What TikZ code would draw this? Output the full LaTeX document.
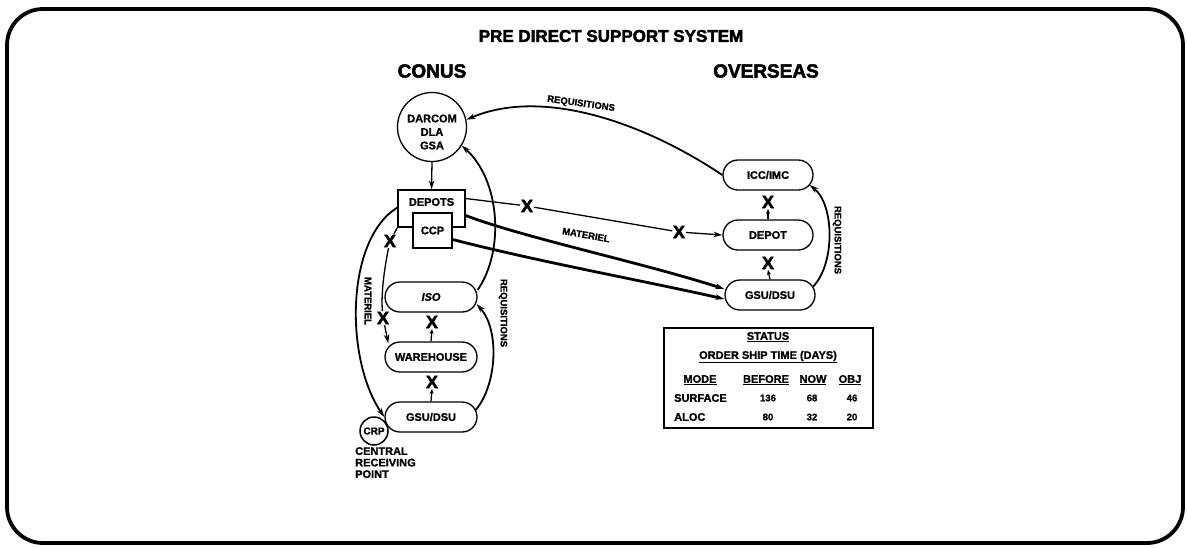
\documentclass[tikz,border=0pt]{standalone}
\usepackage{fontspec}
\setmainfont[BoldFeatures={FakeBold=1.2},BoldItalicFeatures={FakeBold=1.2}]{Liberation Sans}
\newfontfamily\heavyfont[BoldFeatures={FakeBold=2.5}]{Liberation Sans}
\usetikzlibrary{arrows.meta}
\begin{document}
\begin{tikzpicture}[x=1pt,y=-1pt,
  every node/.style={font=\bfseries},
  pill/.style={draw, line width=1.3pt, rounded corners=15pt, minimum width=92pt, minimum height=30pt, inner sep=0pt, fill=white, font=\bfseries\fontsize{11}{12}\selectfont},
  boxnode/.style={draw, line width=1.3pt, fill=white, inner sep=0pt},
  nodetext/.style={inner sep=0pt, font=\bfseries\fontsize{11}{13.5}\selectfont, align=center},
  xmark/.style={inner sep=0.6pt, fill=white, font=\heavyfont\bfseries\fontsize{18}{18}\selectfont},
  thinline/.style={line width=1.3pt},
  midline/.style={line width=1.8pt},
  heavyline/.style={line width=2.8pt},
  arr/.style={-{Stealth[length=9pt,width=5.5pt]}},
  smallarr/.style={-{Stealth[length=5pt,width=4pt]}},
  lbl/.style={inner sep=0pt, font=\bfseries\fontsize{9.5}{10}\selectfont},
  tbl/.style={inner sep=0pt, font=\bfseries\fontsize{11}{12}\selectfont},
  tnum/.style={inner sep=0pt, font=\bfseries\fontsize{9.5}{10}\selectfont}
]
\useasboundingbox (0,0) rectangle (1187,547);
% outer frame
\draw[line width=3.8pt, rounded corners=36pt] (7,9) rectangle (1183,543);

% headings
\node[font=\heavyfont\bfseries\fontsize{17}{18}\selectfont] (title) at (611,36) {PRE DIRECT SUPPORT SYSTEM};
\node[font=\heavyfont\bfseries\fontsize{19}{20}\selectfont] (conus) at (432,71) {CONUS};
\node[font=\heavyfont\bfseries\fontsize{19}{20}\selectfont] (overseas) at (766,71) {OVERSEAS};

% CONUS nodes
\node[circle, draw, line width=1.3pt, minimum size=69pt, inner sep=0pt] (darcom) at (432,127) {};
\node[nodetext] (darcomtext) at (432,132) {DARCOM\\DLA\\GSA};
\node[boxnode, minimum width=67pt, minimum height=37pt] (depots) at (431.5,208.5) {};
\node[nodetext] (depotstext) at (431.5,202) {DEPOTS};
\node[boxnode, minimum width=39pt, minimum height=35pt, font=\bfseries\fontsize{11}{12}\selectfont] (ccp) at (432.5,230.5) {CCP};
\node[pill, font=\bfseries\itshape\fontsize{11}{12}\selectfont] (iso) at (431,297) {ISO};
\node[pill] (wh) at (431,357) {WAREHOUSE};
\node[pill] (gsuL) at (431,417) {GSU/DSU};
\node[circle, draw, line width=1.5pt, fill=white, minimum size=28pt, inner sep=0pt, font=\bfseries\fontsize{10}{11}\selectfont] (crp) at (374,431) {CRP};
\node[anchor=north west, align=left, inner sep=0pt, font=\bfseries\fontsize{11}{11.5}\selectfont] (crptext) at (355,447) {CENTRAL\\RECEIVING\\POINT};

% OVERSEAS nodes
\node[pill, minimum width=90pt] (icc) at (768,175) {ICC/IMC};
\node[pill, minimum width=90pt] (depot) at (768,235) {DEPOT};
\node[pill, minimum width=90pt] (gsuR) at (770,295) {GSU/DSU};

% X marks
\node[xmark] (xl1) at (390,241) {X};
\node[xmark] (xl2) at (383,318) {X};
\node[xmark] (xiso) at (432,322) {X};
\node[xmark] (xwh) at (432,382) {X};
\node[xmark] (xicc) at (768,202) {X};
\node[xmark] (xdep) at (768,263) {X};
\node[xmark] (xm1) at (527,206) {X};
\node[xmark] (xm2) at (679,232) {X};

% status table
\node[draw, line width=1.6pt, minimum width=209pt, minimum height=100pt, inner sep=0pt] (table) at (768.5,378) {};
\node[tbl] (tstatus) at (768,337) {\underline{STATUS}};
\node[tbl] (torder) at (768,357) {\underline{ORDER SHIP TIME (DAYS)}};
\node[tbl] (hmode) at (700,380) {\underline{MODE}};
\node[tbl] (hbefore) at (766,380) {\underline{BEFORE}};
\node[tbl] (hnow) at (813,380) {\underline{NOW}};
\node[tbl] (hobj) at (850,380) {\underline{OBJ}};
\node[tbl, anchor=west] (rsurf) at (674,398) {SURFACE};
\node[tnum] (s1) at (768,398) {136};
\node[tnum] (s2) at (812,398) {68};
\node[tnum] (s3) at (852,398) {46};
\node[tbl, anchor=west] (raloc) at (674,417) {ALOC};
\node[tnum] (a1) at (768,417) {80};
\node[tnum] (a2) at (812,417) {32};
\node[tnum] (a3) at (852,417) {20};

% connectors
% requisitions overseas -> darcom
\draw[midline, arr] (icc.west) .. controls (640,120) and (540,88) .. (darcom.12);
\node[lbl, rotate=-8] (lreq1) at (581,104) {REQUISITIONS};
% darcom -> depots
\draw[thinline, arr] (darcom.south) -- (depots.north);
% iso -> darcom
\draw[midline, arr] ([yshift=7pt]iso.east) .. controls (505,250) and (500,180) .. (darcom.-32);
% gsuL -> iso
\draw[midline, arr] ([yshift=7pt,xshift=-2pt]gsuL.east) .. controls (497,385) and (500,330) .. ([yshift=-7pt,xshift=-1pt]iso.east);
\node[lbl, rotate=-90] (lreq2) at (503,313) {REQUISITIONS};
% materiel outer
\draw[midline, arr] ([yshift=1pt]depots.west) .. controls (345,240) and (345,360) .. (gsuL.west);
\node[lbl, rotate=-90] (lmat1) at (368,301) {MATERIEL};
% inner broken line
\draw[thinline] (depots.south west) -- (xl1);
\draw[thinline] (xl1) .. controls (384,270) and (381,295) .. (xl2);
\draw[thinline, arr] (xl2) -- ([xshift=4pt,yshift=-2pt]wh.north west);
% vertical requisition ticks
\draw[thinline, smallarr] (wh.north) -- (xiso.south);
\draw[thinline, smallarr] (gsuL.north) -- (xwh.south);
\draw[thinline, smallarr] (depot.north) -- (xicc.south);
\draw[thinline, smallarr] (gsuR.north) -- (xdep.south);
% depots -> depot (broken)
\draw[thinline] ([yshift=10pt]depots.east) -- (xm1);
\draw[thinline] (xm1) -- (xm2);
\draw[thinline, arr] (xm2) -- (depot.west);
% heavy materiel lines
\draw[heavyline, arr] ([yshift=-7pt]depots.east) .. controls (525,238) and (640,262) .. ([yshift=6pt]gsuR.west);
\node[lbl, rotate=-10] (lmat2) at (586,235) {MATERIEL};
\draw[heavyline, arr] ([yshift=-9pt]ccp.east) .. controls (540,262) and (640,280) .. ([yshift=-4pt]gsuR.west);
% overseas requisitions
\draw[midline, arr] ([yshift=8pt,xshift=-3pt]gsuR.east) .. controls (835,265) and (835,205) .. ([yshift=-10pt,xshift=-4pt]icc.east);
\node[lbl, rotate=-90] (lreq3) at (837,240) {REQUISITIONS};
\end{tikzpicture}
\end{document}
